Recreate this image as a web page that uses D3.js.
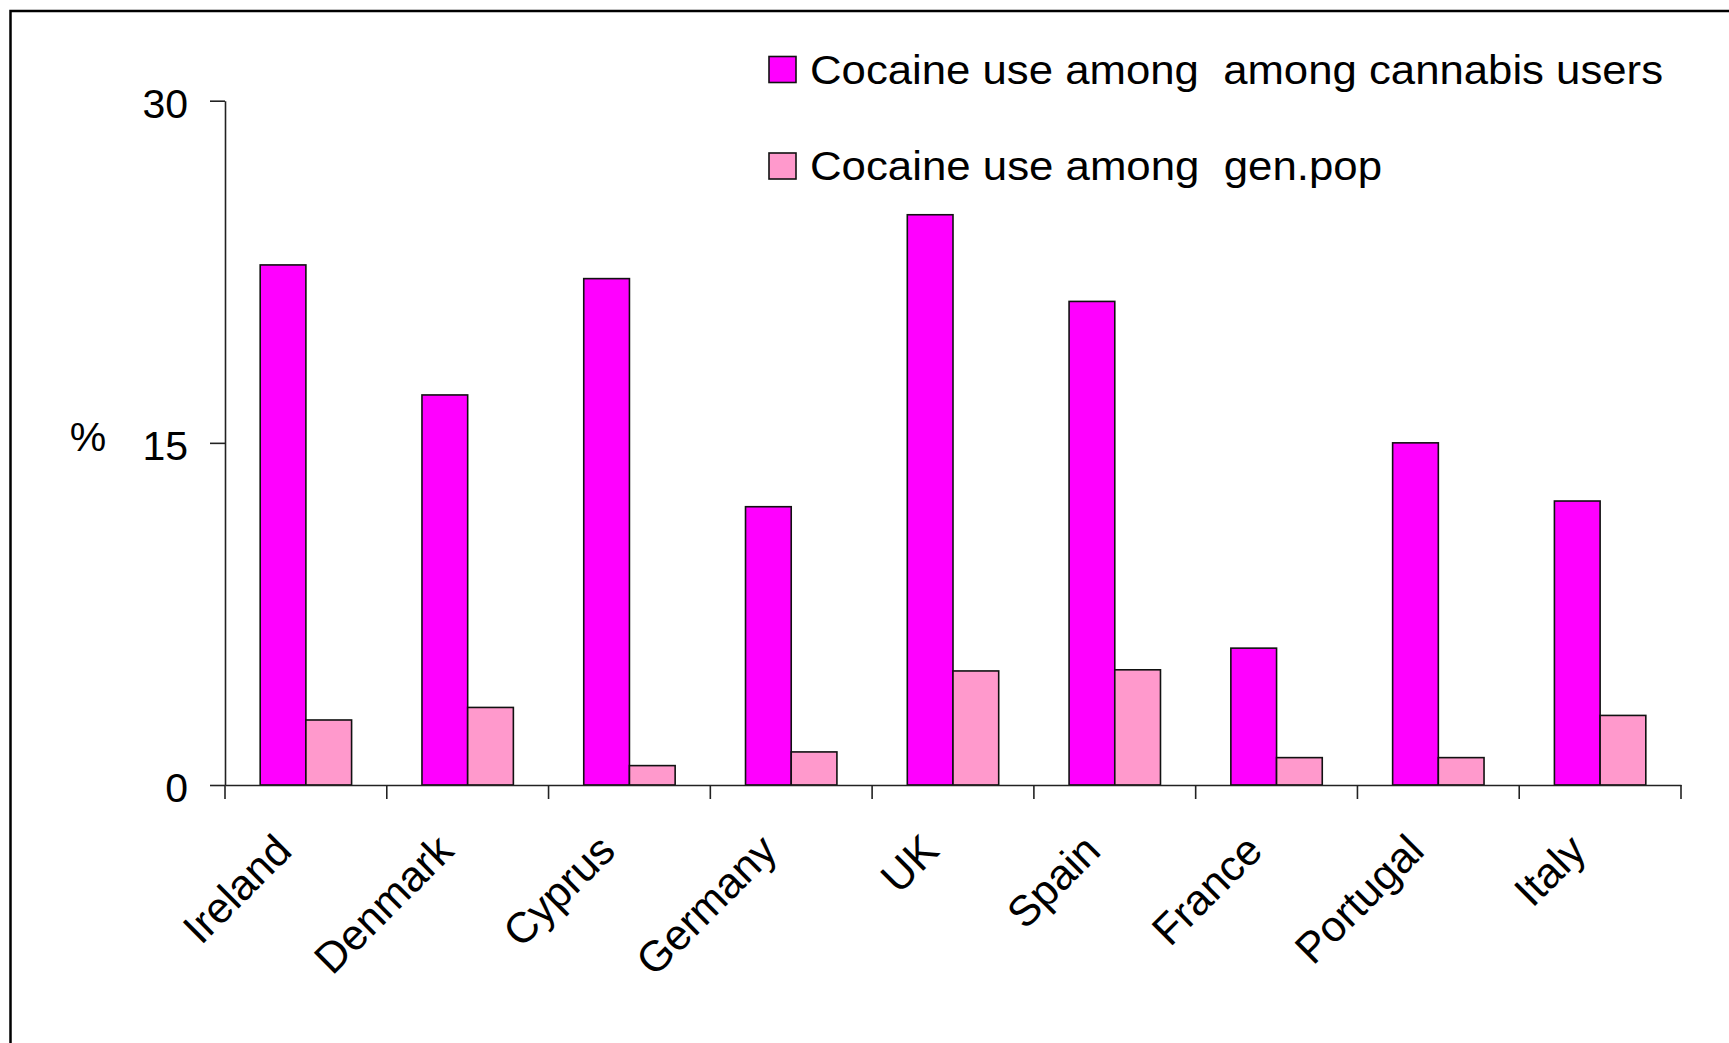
<!DOCTYPE html>
<html>
<head>
<meta charset="utf-8">
<script src="https://cdn.jsdelivr.net/npm/d3@7/dist/d3.min.js"></script>
<style>
  html, body { margin: 0; padding: 0; background: #fff; }
  svg { display: block; }
  text { font-family: "Liberation Sans", Arial, sans-serif; fill: #000; }
</style>
</head>
<body>
<svg id="chart" width="1729" height="1043"></svg>
<script>
// Countries along the x axis
const countries = ["Ireland", "Denmark", "Cyprus", "Germany", "UK", "Spain", "France", "Portugal", "Italy"];

// Share (%) reporting cocaine use
const cannabisUsers = [22.8, 17.1, 22.2, 12.2, 25.0, 21.2, 6.0, 15.0, 12.45];
const generalPopulation = [2.85, 3.4, 0.85, 1.45, 5.0, 5.05, 1.2, 1.2, 3.05];

const seriesNames = ["Cocaine use among  among cannabis users", "Cocaine use among  gen.pop"];
const seriesColors = ["#FF00FF", "#FF99CC"];

const yTicks = [0, 15, 30];

const svg = d3.select("#chart");
const W = 1729, H = 1043;

svg.append("rect").attr("width", W).attr("height", H).attr("fill", "#fff");

// outer frame (runs past the right and bottom edges)
svg.append("rect")
  .attr("x", 10.5).attr("y", 11)
  .attr("width", 1800).attr("height", 1100)
  .attr("fill", "none").attr("stroke", "#000").attr("stroke-width", 2.5);

const plot = { left: 225, right: 1681, top: 100.7, bottom: 785 };

const x = d3.scaleBand().domain(countries).range([plot.left, plot.right]).padding(0);
const xInner = d3.scaleBand().domain([0, 1]).range([0, x.bandwidth()])
  .paddingInner(0).paddingOuter(0.77);
const y = d3.scaleLinear().domain([0, 30]).range([plot.bottom, plot.top]);

const rows = countries.map((c, i) => ({ country: c, values: [cannabisUsers[i], generalPopulation[i]] }));

// bars
const groups = svg.append("g").selectAll("g")
  .data(rows).join("g")
  .attr("transform", d => `translate(${x(d.country)},0)`);

groups.selectAll("rect")
  .data(d => d.values.map((v, k) => ({ v, k })))
  .join("rect")
  .attr("x", d => xInner(d.k))
  .attr("width", xInner.bandwidth())
  .attr("y", d => y(d.v))
  .attr("height", d => y(0) - y(d.v))
  .attr("fill", d => seriesColors[d.k])
  .attr("stroke", "#111")
  .attr("stroke-width", 1.6);

// y axis
const yAxis = svg.append("g")
  .attr("transform", `translate(${plot.left},0)`)
  .call(d3.axisLeft(y).tickValues(yTicks).tickSize(15).tickSizeOuter(0).tickPadding(22));
yAxis.select(".domain").attr("stroke", "#222").attr("stroke-width", 1.6);
yAxis.selectAll(".tick line").attr("stroke", "#222").attr("stroke-width", 1.6);
yAxis.selectAll(".tick text")
  .attr("font-size", 41).attr("font-family", "Liberation Sans, Arial, sans-serif")
  .attr("fill", "#000").attr("dy", "0.4em");

// x axis: baseline plus separators between categories
const xAxis = svg.append("g").attr("transform", `translate(0,${plot.bottom})`);
xAxis.call(d3.axisBottom(x).tickSize(0).tickSizeOuter(0).tickFormat(""));
xAxis.select(".domain").attr("stroke", "#222").attr("stroke-width", 1.6);
const bounds = countries.map(c => x(c)).concat([x(countries[countries.length - 1]) + x.bandwidth()]);
xAxis.selectAll("line.sep").data(bounds).join("line")
  .attr("class", "sep")
  .attr("x1", d => d).attr("x2", d => d)
  .attr("y1", 0).attr("y2", 14)
  .attr("stroke", "#222").attr("stroke-width", 1.6);

// rotated category labels
svg.append("g").selectAll("text")
  .data(countries).join("text")
  .attr("transform", c => `translate(${x(c) + x.bandwidth() / 2 - 12},853) rotate(-45)`)
  .attr("text-anchor", "end")
  .attr("font-size", 43)
  .text(c => c);

// y axis unit
svg.append("text")
  .attr("x", 88).attr("y", 451)
  .attr("text-anchor", "middle")
  .attr("font-size", 41)
  .text("%");

// legend
const legend = svg.append("g");
const legendRows = [{ y: 69.5, w: 853 }, { y: 166, w: 572 }];
seriesNames.forEach((name, k) => {
  legend.append("rect")
    .attr("x", 769).attr("y", legendRows[k].y - 13)
    .attr("width", 27).attr("height", 26)
    .attr("fill", seriesColors[k])
    .attr("stroke", "#111").attr("stroke-width", 1.6);
  legend.append("text")
    .attr("x", 810).attr("y", legendRows[k].y + 14)
    .attr("font-size", 40)
    .attr("textLength", legendRows[k].w)
    .attr("lengthAdjust", "spacingAndGlyphs")
    .style("white-space", "pre")
    .text(name);
});
</script>
</body>
</html>
